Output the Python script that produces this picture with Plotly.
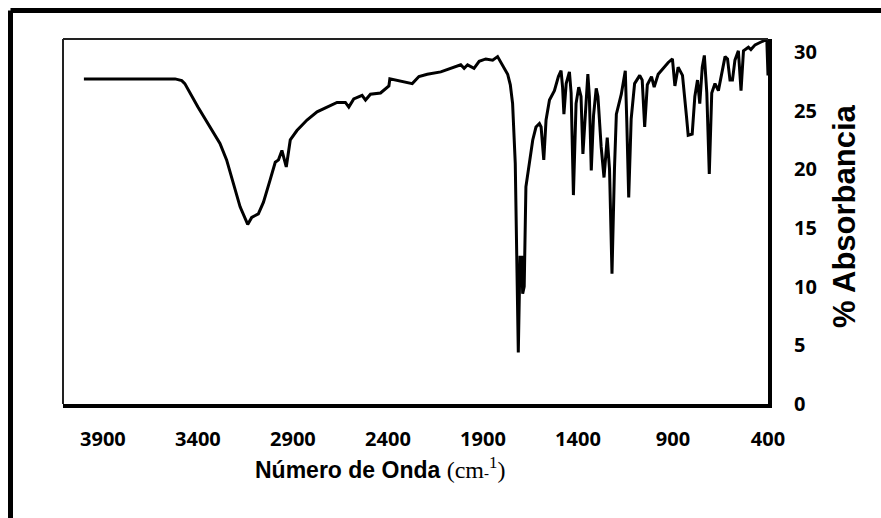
import plotly.graph_objects as go

# FTIR spectrum: wavenumber (cm-1) vs % absorbance
wavenumber = [
    4000, 3520, 3485, 3469, 3400, 3319, 3284, 3249, 3214, 3178, 3138, 3117, 3082,
    3055, 3020, 2993, 2976, 2958, 2935, 2914, 2879, 2826, 2773, 2720, 2668, 2624,
    2606, 2580, 2536, 2518, 2492, 2439, 2413, 2395, 2390, 2272, 2237, 2193, 2122,
    2087, 2017, 1999, 1981, 1947, 1920, 1885, 1849, 1823, 1806, 1788, 1770, 1756,
    1744, 1730, 1721, 1714, 1705, 1696, 1691, 1683, 1674, 1665, 1650, 1638, 1621,
    1603, 1594, 1580, 1568, 1550, 1524, 1503, 1489, 1481, 1474, 1462, 1445, 1436,
    1424, 1410, 1396, 1384, 1374, 1361, 1348, 1340, 1330, 1318, 1304, 1295, 1278,
    1263, 1246, 1234, 1221, 1208, 1198, 1172, 1151, 1143, 1133, 1120, 1102, 1075,
    1062, 1049, 1035, 1013, 999, 978, 952, 925, 903, 890, 873, 850, 829, 820, 799,
    785, 771, 759, 746, 735, 722, 709, 696, 679, 661, 644, 626, 613, 600, 587, 574,
    556, 542, 529, 503, 490, 468, 442, 415, 406, 400,
]
absorbance = [
    27.7, 27.7, 27.55, 27.3, 25.3, 23.2, 22.2, 20.8, 18.8, 16.8, 15.3, 15.9, 16.2,
    17.2, 19.1, 20.6, 20.8, 21.6, 20.2, 22.5, 23.3, 24.2, 24.9, 25.3, 25.7, 25.7,
    25.3, 26.0, 26.3, 25.9, 26.4, 26.5, 26.9, 27.1, 27.7, 27.3, 27.9, 28.1, 28.3,
    28.5, 28.9, 28.6, 28.9, 28.6, 29.2, 29.4, 29.3, 29.6, 29.1, 28.7, 28.1, 27.2,
    25.6, 20.5, 12.0, 4.4, 12.5, 12.5, 9.4, 10.0, 18.5, 19.6, 21.5, 22.5, 23.6,
    23.9, 23.6, 20.8, 24.2, 25.9, 26.7, 27.9, 28.4, 27.0, 24.7, 27.3, 28.3, 26.5,
    17.8, 25.6, 27.0, 26.2, 21.3, 25.2, 28.1, 26.2, 19.9, 24.6, 26.9, 26.2, 21.9,
    19.3, 22.7, 20.0, 11.1, 20.0, 24.7, 26.4, 28.4, 24.0, 17.6, 24.3, 27.3, 28.0,
    27.6, 23.6, 27.2, 27.9, 27.0, 28.1, 28.6, 29.1, 29.4, 27.1, 28.7, 28.0, 24.5,
    22.9, 23.0, 26.2, 27.6, 25.6, 28.7, 29.7, 26.5, 19.6, 26.5, 27.3, 26.7, 28.1,
    29.6, 29.4, 27.6, 27.6, 29.3, 30.1, 26.7, 30.1, 30.4, 30.2, 30.6, 30.8, 31.0,
    30.9, 28.0,
]

x_ticks = [3900, 3400, 2900, 2400, 1900, 1400, 900, 400]
y_ticks = [0, 5, 10, 15, 20, 25, 30]

W, H = 881, 518
L, R, T, B = 63, 113, 39, 114
pw, ph = W - L - R, H - T - B


def px_to_paper(xp, yp):
    return (xp - L) / pw, (H - B - yp) / ph


fig = go.Figure()
fig.add_trace(go.Scatter(
    x=wavenumber, y=absorbance, mode="lines",
    line=dict(color="black", width=3),
    hoverinfo="skip", showlegend=False,
))

tick_font = dict(family="Open Sans, Lato, sans-serif", size=20, color="black", weight="bold")

fig.update_layout(
    width=W, height=H,
    margin=dict(l=L, r=R, t=T, b=B, pad=0),
    paper_bgcolor="white", plot_bgcolor="white",
    xaxis=dict(
        range=[4110, 400], tickvals=x_ticks, ticktext=[str(v) for v in x_ticks],
        showgrid=False, zeroline=False, showline=True, linecolor="black", linewidth=4,
        ticks="", tickfont=tick_font, ticklabelstandoff=14,
    ),
    yaxis=dict(
        range=[0, 31.1], tickvals=y_ticks, ticktext=[str(v) for v in y_ticks],
        side="right", showgrid=False, zeroline=False, showline=True,
        linecolor="black", linewidth=4, ticks="", tickfont=tick_font,
        ticklabelstandoff=18,
    ),
)

# thin top and left sides of the plot frame
fig.add_shape(type="line", xref="paper", yref="paper", x0=0, x1=1, y0=1, y1=1,
              line=dict(color="#222", width=2))
fig.add_shape(type="line", xref="paper", yref="paper", x0=0, x1=0, y0=0, y1=1,
              line=dict(color="#222", width=2))

# outer chart border: left and top edges only
ox, oy = px_to_paper(10.5, 10.5)
ex, ey = px_to_paper(W, H)
fig.add_shape(type="line", xref="paper", yref="paper", x0=ox, x1=ox, y0=ey, y1=oy,
              line=dict(color="black", width=5))
fig.add_shape(type="line", xref="paper", yref="paper", x0=ox, x1=ex, y0=oy, y1=oy,
              line=dict(color="black", width=5))

# axis titles
tx, ty = px_to_paper(380, 468)
fig.add_annotation(
    xref="paper", yref="paper", x=tx, y=ty, showarrow=False,
    text=("Número de Onda "
          "<span style='font-family:Liberation Serif;font-weight:normal;font-size:24px'>"
          "(cm<span style='font-size:15px'>-</span><sup>1</sup>)</span>"),
    font=dict(family="Liberation Sans, Arial, sans-serif", size=23, color="black", weight="bold"),
    xanchor="center", yanchor="middle",
)
ax, ay = px_to_paper(844, 216)
fig.add_annotation(
    xref="paper", yref="paper", x=ax, y=ay, showarrow=False, textangle=-90,
    text="% Absorbancia",
    font=dict(family="Liberation Sans, Arial, sans-serif", size=31, color="black", weight="bold"),
    xanchor="center", yanchor="middle",
)

fig.write_html("out.html")
